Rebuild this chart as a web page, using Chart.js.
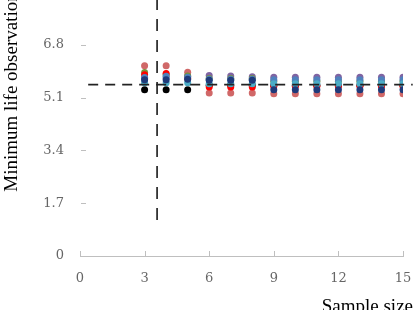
<!DOCTYPE html>
<html><head><meta charset="utf-8">
<script src="https://cdn.jsdelivr.net/npm/chart.js@4.4.1/dist/chart.umd.min.js"></script>
<style>html,body{margin:0;padding:0;background:#fff}#wrap{width:415px;height:310px}</style>
</head><body><div id="wrap"><canvas id="c" width="415" height="310"></canvas></div>
<script>
const sampleSizes = [3,4,5,6,7,8,9,10,11,12,13,14,15];
const yTicks = [0,1.7,3.4,5.1,6.8];
const xTicks = [0,3,6,9,12,15];
const pinkS   = [6.13,6.13,5.92,5.25,5.25,5.25,5.23,5.23,5.23,5.23,5.23,5.23,5.23];
const oliveS  = [5.91,5.84,5.80,5.72,5.72,5.72,5.63,5.63,5.63,5.63,5.63,5.63,5.63];
const redS    = [5.84,5.88,5.72,5.45,5.45,5.45,5.47,5.47,5.47,5.47,5.47,5.47,5.47];
const blueS   = [5.75,5.79,5.76,5.70,5.70,5.70,5.68,5.68,5.68,5.68,5.68,5.68,5.68];
const navyS   = [5.68,5.68,5.70,5.66,5.66,5.66,5.36,5.36,5.36,5.36,5.36,5.36,5.36];
const purpleS = [5.72,5.74,5.79,5.82,5.80,5.78,5.76,5.76,5.76,5.76,5.76,5.76,5.76];
const cyanS   = [5.58,5.58,5.58,5.55,5.55,5.55,5.55,5.55,5.55,5.55,5.55,5.55,5.55];
const blackS  = [5.36,5.36,5.36,5.50,5.50,5.50,5.50,5.50,5.50,5.50,5.50,5.50,5.50];
const hLineY = 5.52;
const vLineX = 3.58;

const series = [
  {v: navyS, c:'#1F3A7A'},
  {v: cyanS, c:'#4BACC6'},
  {v: blueS, c:'#4F81BD'},
  {v: redS, c:'#FF0000'},
  {v: oliveS, c:'#77933C'},
  {v: purpleS, c:'#8064A2'},
  {v: pinkS, c:'#D06868'},
  {v: blackS, c:'#000000'}
];
const datasets = series.map(s => ({
  type:'scatter',
  data: sampleSizes.map((x,i)=>({x, y:s.v[i]})),
  backgroundColor: s.c, borderColor: s.c, pointRadius: 3.5, borderWidth:0, order: 5
}));
datasets.push({type:'line', data:[{x:0.38,y:hLineY},{x:15.45,y:hLineY}], borderColor:'#222', borderWidth:1.8, borderDash:[10,7], pointRadius:0, clip:false, order:1});
datasets.push({type:'line', data:[{x:vLineX,y:1.16},{x:vLineX,y:8.4}], borderColor:'#333', borderWidth:1.8, borderDash:[12,9], pointRadius:0, clip:false, order:1});

const inner = {
  id:'inner',
  afterDraw(chart){
    const ctx = chart.ctx, xs = chart.scales.x, ys = chart.scales.y;
    ctx.save();
    ctx.strokeStyle = '#BFBFBF'; ctx.lineWidth = 1;
    xTicks.forEach(t=>{ const px = Math.round(xs.getPixelForValue(t))+0.5; ctx.beginPath(); ctx.moveTo(px, ys.bottom); ctx.lineTo(px, ys.bottom-5); ctx.stroke(); });
    yTicks.forEach(t=>{ const py = Math.round(ys.getPixelForValue(t))+0.5; ctx.beginPath(); ctx.moveTo(xs.left+1, py); ctx.lineTo(xs.left+6, py); ctx.stroke(); });
    ctx.fillStyle = '#000';
    ctx.font = '19px "Liberation Serif"';
    ctx.save(); ctx.translate(17, 92); ctx.rotate(-Math.PI/2); ctx.textAlign='center'; ctx.textBaseline='alphabetic';
    ctx.fillText('Minimum life observation', 0, 0); ctx.restore();
    ctx.font = '19px "Liberation Serif"'; ctx.textAlign='right'; ctx.textBaseline='alphabetic';
    ctx.fillText('Sample size', 413, 312);
    ctx.restore();
  }
};

new Chart(document.getElementById('c'), {
  type:'scatter',
  data:{datasets},
  options:{
    responsive:false, animation:false, devicePixelRatio:1,
    layout:{autoPadding:false, padding:{left:0,right:12,top:0,bottom:0}},
    plugins:{legend:{display:false}, tooltip:{enabled:false}},
    scales:{
      x:{type:'linear', min:0, max:15,
        afterBuildTicks(s){ s.ticks = xTicks.map(v=>({value:v})); },
        afterFit(s){ s.height = 54; s.paddingLeft = 0; s.paddingRight = 0; },
        grid:{display:false, drawTicks:false},
        border:{display:true, color:'#BFBFBF', width:1},
        ticks:{padding:15, color:'#666', font:{family:'"DejaVu Serif"', size:13}, maxRotation:0}
      },
      y:{type:'linear', min:0, max:8.25,
        afterBuildTicks(s){ s.ticks = yTicks.map(v=>({value:v})); },
        afterFit(s){ s.width = 80; s.paddingTop = 0; s.paddingBottom = 0; },
        grid:{display:false, drawTicks:false},
        border:{display:false},
        ticks:{padding:16, color:'#666', font:{family:'"DejaVu Serif"', size:13}, callback:v=>String(v)}
      }
    }
  },
  plugins:[inner]
});
</script></body></html>
